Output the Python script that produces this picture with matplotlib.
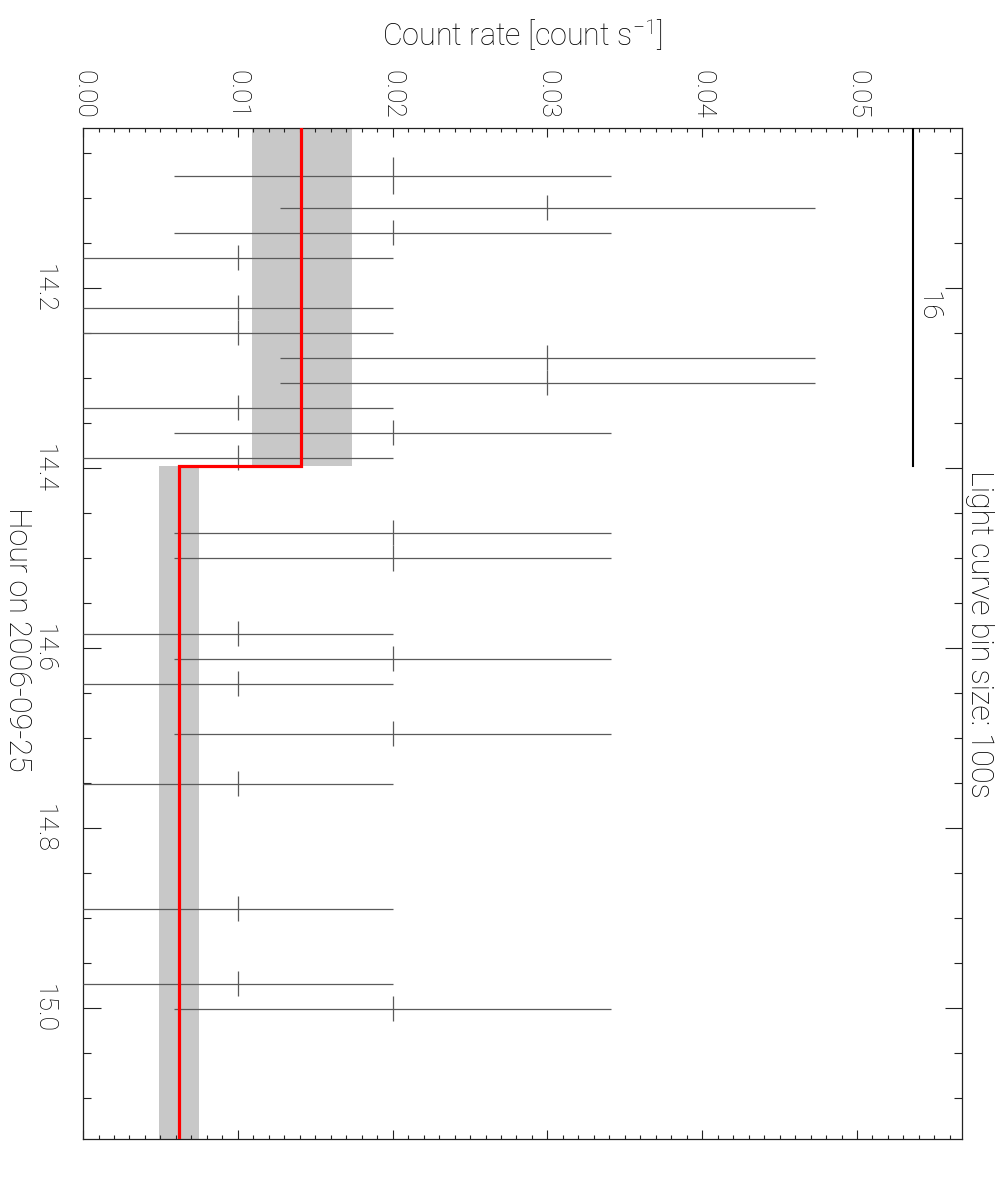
import numpy as np
import matplotlib
matplotlib.use("Agg")
import matplotlib.pyplot as plt
from matplotlib.ticker import MultipleLocator, FormatStrFormatter

# light curve, 100 s bins (time in hours, rate in count/s)
times = [14.0749, 14.1103, 14.1381, 14.1659, 14.2214, 14.2492, 14.2770,
         14.3048, 14.3326, 14.3603, 14.3881, 14.4719, 14.4997, 14.5837,
         14.6114, 14.6392, 14.6948, 14.7503, 14.8892, 14.9730, 15.0008]
rates = [0.02, 0.03, 0.02, 0.01, 0.01, 0.01, 0.03,
         0.03, 0.01, 0.02, 0.01, 0.02, 0.02, 0.01,
         0.02, 0.01, 0.02, 0.01, 0.01, 0.01, 0.02]
rate_err = [0.0141, 0.0173, 0.0141, 0.01, 0.01, 0.01, 0.0173,
            0.0173, 0.01, 0.0141, 0.01, 0.0141, 0.0141, 0.01,
            0.0141, 0.01, 0.0141, 0.01, 0.01, 0.01, 0.0141]
time_err = [0.0206] + [0.0139] * 20

# bayesian blocks
block_edges = [14.00, 14.397, 15.20]
block_rate = [0.01411, 0.00617]
block_lo = [0.01092, 0.00488]
block_hi = [0.01737, 0.00746]
block_counts = ["16"]
count_bar_x = 0.05364

font = ["Roboto", "DejaVu Sans"]
plt.rcParams["font.family"] = font
plt.rcParams["font.weight"] = "light"
plt.rcParams["mathtext.default"] = "regular"

fig = plt.figure(figsize=(10.03, 11.8), dpi=100)
ax = fig.add_axes([0.0828, 0.0345, 0.8766, 0.8568])

ax.set_xlim(0, 0.0568)
ax.set_ylim(15.1456, 14.0222)

# blocks
for i in range(len(block_rate)):
    ax.fill_betweenx([block_edges[i], block_edges[i + 1]], block_lo[i], block_hi[i],
                     color="#c8c8c8", lw=0, zorder=1)
xs, ys = [], []
for i in range(len(block_rate)):
    xs += [block_rate[i], block_rate[i]]
    ys += [block_edges[i], block_edges[i + 1]]
ax.plot(xs, ys, color="red", lw=2.3, zorder=4, solid_joinstyle="miter")

ax.errorbar(rates, times, xerr=rate_err, yerr=time_err, fmt="none",
            ecolor="#5a5a5a", elinewidth=0.9, capsize=0, zorder=3)

# counts in first block
ax.plot([count_bar_x, count_bar_x], [block_edges[0], block_edges[1]], color="black", lw=1.5, zorder=5)
ax.annotate(block_counts[0], xy=(count_bar_x, 14.2197), xytext=(1, 0), textcoords="offset points",
            rotation=-90, ha="left", va="center", fontsize=20)

ax.xaxis.tick_top()
ax.xaxis.set_major_locator(MultipleLocator(0.01))
ax.xaxis.set_minor_locator(MultipleLocator(0.001))
ax.xaxis.set_major_formatter(FormatStrFormatter("%.2f"))
ax.yaxis.set_major_locator(MultipleLocator(0.2))
ax.yaxis.set_minor_locator(MultipleLocator(0.05))
ax.yaxis.set_major_formatter(FormatStrFormatter("%.1f"))

ax.tick_params(axis="x", which="both", direction="in", top=True, bottom=True,
               labeltop=True, labelbottom=False, labelsize=19, labelrotation=-90, pad=7,
               width=0.8, color="#222222")
ax.tick_params(axis="x", which="major", length=6.5)
ax.tick_params(axis="x", which="minor", length=3.2)
ax.tick_params(axis="y", which="both", direction="in", left=True, right=True,
               labelleft=True, labelright=False, labelsize=19, labelrotation=-90, pad=20,
               width=0.8, color="#222222")
ax.tick_params(axis="y", which="major", length=12.6)
ax.tick_params(axis="y", which="minor", length=6.1)
for lab in ax.get_yticklabels():
    lab.set_va("center")

for s in ax.spines.values():
    s.set_linewidth(0.9)
    s.set_color("#222222")

ax.text(0.5, 1.093, "Count rate [count s$^{-1}$]", transform=ax.transAxes,
        ha="center", va="center", fontsize=22)
ax.text(-0.075, 0.495, "Hour on 2006-09-25", transform=ax.transAxes,
        ha="center", va="center", rotation=-90, fontsize=22)
ax.text(1.003, 0.5, "Light curve bin size: 100s", transform=ax.transAxes,
        ha="left", va="center", rotation=-90, fontsize=22)

fig.savefig("out.png", dpi=100)
